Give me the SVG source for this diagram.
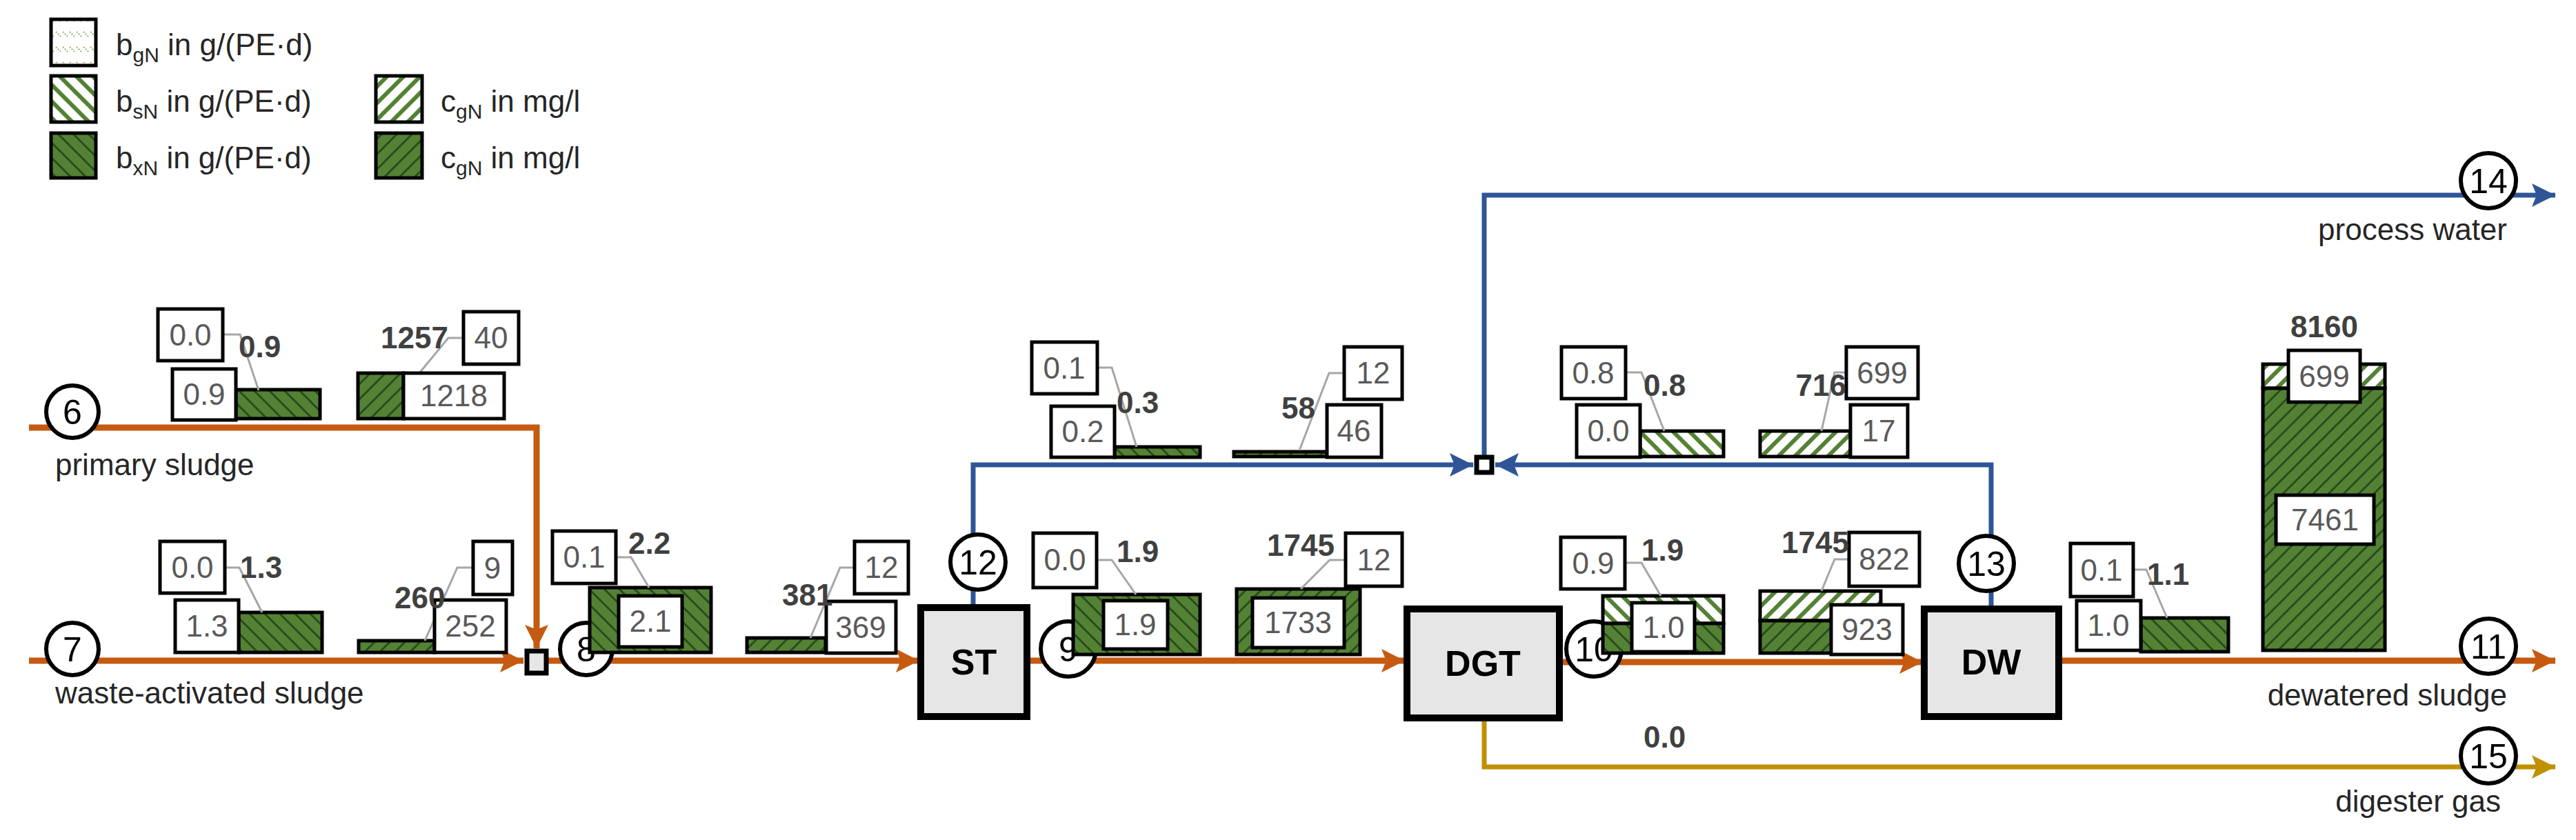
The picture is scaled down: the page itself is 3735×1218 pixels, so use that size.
<svg xmlns="http://www.w3.org/2000/svg" width="3735" height="1218" viewBox="0 0 3735 1218">
<style>
text{font-family:"Liberation Sans",Arial,sans-serif}
.v{font-size:44px;fill:#595959;text-anchor:middle}
.b{font-size:44px;fill:#404040;font-weight:bold}
.lb{font-size:44px;fill:#262626}
.bx{fill:#fff;stroke:#000;stroke-width:5}
.ld{fill:none;stroke:#a6a6a6;stroke-width:3}
.bar{stroke:#000;stroke-width:5}
.circ{fill:#fff;stroke:#000;stroke-width:6}
.cn{font-size:50px;fill:#000;text-anchor:middle}
.unit{fill:#e7e6e6;stroke:#000;stroke-width:10}
.ut{font-size:52px;font-weight:bold;text-anchor:middle;fill:#000}
.o{fill:none;stroke:#C55A11;stroke-width:9}
.bl{fill:none;stroke:#2F5597;stroke-width:7}
.g{fill:none;stroke:#BF9000;stroke-width:7}
</style>
<defs>
<pattern id="dB" width="22" height="22" patternUnits="userSpaceOnUse"><rect width="22" height="22" fill="#548235"/><path d="M-5,-5 L27,27 M-5,17 L5,27 M17,-5 L27,5" stroke="#2a4a1c" stroke-width="3"/></pattern>
<pattern id="dF" width="22" height="22" patternUnits="userSpaceOnUse"><rect width="22" height="22" fill="#548235"/><path d="M-5,27 L27,-5 M-5,5 L5,-5 M17,27 L27,17" stroke="#2a4a1c" stroke-width="3"/></pattern>
<pattern id="wB" width="24" height="24" patternUnits="userSpaceOnUse"><rect width="24" height="24" fill="#fff"/><path d="M-6,-6 L30,30 M-6,18 L6,30 M18,-6 L30,6" stroke="#548235" stroke-width="6"/></pattern>
<pattern id="wF" width="24" height="24" patternUnits="userSpaceOnUse"><rect width="24" height="24" fill="#fff"/><path d="M-6,30 L30,-6 M-6,6 L6,-6 M18,30 L30,18" stroke="#548235" stroke-width="6"/></pattern>
<pattern id="gD" width="10" height="22" patternUnits="userSpaceOnUse"><rect width="10" height="22" fill="#fff"/><path d="M1,2 L8,9" stroke="#8fb46e" stroke-width="2" stroke-dasharray="2 2"/></pattern>
<marker id="aO" viewBox="0 0 10 10" refX="10" refY="5" markerUnits="userSpaceOnUse" markerWidth="34" markerHeight="40" orient="auto"><path d="M0,0 L10,5 L0,10 L2,5 Z" fill="#C55A11"/></marker>
<marker id="aB" viewBox="0 0 10 10" refX="10" refY="5" markerUnits="userSpaceOnUse" markerWidth="34" markerHeight="40" orient="auto"><path d="M0,0 L10,5 L0,10 L2,5 Z" fill="#2F5597"/></marker>
<marker id="aG" viewBox="0 0 10 10" refX="10" refY="5" markerUnits="userSpaceOnUse" markerWidth="34" markerHeight="40" orient="auto"><path d="M0,0 L10,5 L0,10 L2,5 Z" fill="#BF9000"/></marker>
</defs>
<rect width="3735" height="1218" fill="#fff"/>

<g id="legend">
<rect x="74" y="28" width="65" height="67" fill="url(#gD)" stroke="#000" stroke-width="5"/>
<text class="lb" x="168" y="80">b<tspan font-size="30" dy="10">gN</tspan><tspan dy="-10"> in g/(PE·d)</tspan></text>
<rect x="74" y="110" width="65" height="67" fill="url(#wB)" stroke="#000" stroke-width="5"/>
<text class="lb" x="168" y="162">b<tspan font-size="30" dy="10">sN</tspan><tspan dy="-10"> in g/(PE·d)</tspan></text>
<rect x="74" y="193" width="65" height="65" fill="url(#dB)" stroke="#000" stroke-width="5"/>
<text class="lb" x="168" y="244">b<tspan font-size="30" dy="10">xN</tspan><tspan dy="-10"> in g/(PE·d)</tspan></text>
<rect x="545" y="110" width="67" height="67" fill="url(#wF)" stroke="#000" stroke-width="5"/>
<text class="lb" x="639" y="162">c<tspan font-size="30" dy="10">gN</tspan><tspan dy="-10"> in mg/l</tspan></text>
<rect x="545" y="193" width="67" height="65" fill="url(#dF)" stroke="#000" stroke-width="5"/>
<text class="lb" x="639" y="244">c<tspan font-size="30" dy="10">gN</tspan><tspan dy="-10"> in mg/l</tspan></text>
</g>

<g id="connectors">
<path class="o" d="M42,620 H778 V940" marker-end="url(#aO)"/>
<path class="o" d="M42,958 H759" marker-end="url(#aO)"/>
<path class="o" d="M795,958 H1333" marker-end="url(#aO)"/>
<path class="o" d="M1489,958 H2037" marker-end="url(#aO)"/>
<path class="o" d="M2261,960 H2788" marker-end="url(#aO)"/>
<path class="o" d="M2985,958 H3705" marker-end="url(#aO)"/>
<path class="bl" d="M1411,881 V674 H2136" marker-end="url(#aB)"/>
<path class="bl" d="M2887,883 V674 H2168" marker-end="url(#aB)"/>
<path class="bl" d="M2152,661 V283 H3705" marker-end="url(#aB)"/>
<path class="g" d="M2152,1041 V1112 H3705" marker-end="url(#aG)"/>
<rect x="764" y="944" width="28" height="32" fill="#e7e6e6" stroke="#000" stroke-width="7"/>
<rect x="2141" y="663" width="22" height="22" fill="#fff" stroke="#000" stroke-width="7"/>
<text class="b" x="2383" y="1084">0.0</text>
</g>

<g id="labels">
<text class="lb" x="80" y="689">primary sludge</text>
<text class="lb" x="80" y="1020">waste-activated sludge</text>
<text class="lb" x="3635" y="348" text-anchor="end">process water</text>
<text class="lb" x="3635" y="1023" text-anchor="end">dewatered sludge</text>
<text class="lb" x="3626" y="1177" text-anchor="end">digester gas</text>
</g>

<g id="units">
<g id="ST"><rect class="unit" x="1335" y="881" width="154" height="158"/><text class="ut" x="1412" y="978">ST</text></g>
<g id="DGT"><rect class="unit" x="2040" y="883" width="221" height="158"/><text class="ut" x="2150" y="980">DGT</text></g>
<g id="DW"><rect class="unit" x="2790" y="883" width="195" height="156"/><text class="ut" x="2887" y="978">DW</text></g>
</g>

<g id="streams">
<g id="s6"><circle class="circ" cx="105" cy="597" r="38"/><text class="cn" x="105" y="615">6</text></g>
<g id="s7"><circle class="circ" cx="105" cy="941" r="38"/><text class="cn" x="105" y="959">7</text></g>
<g id="s8"><circle class="circ" cx="850" cy="941" r="38"/><text class="cn" x="850" y="959">8</text></g>
<g id="s9"><circle class="circ" cx="1549" cy="941" r="40"/><text class="cn" x="1549" y="959">9</text></g>
<g id="s10"><circle class="circ" cx="2311" cy="941" r="40"/><text class="cn" x="2311" y="959">10</text></g>
<g id="s11"><circle class="circ" cx="3608" cy="937" r="40"/><text class="cn" x="3608" y="955">11</text></g>
<g id="s12"><circle class="circ" cx="1418" cy="815" r="40"/><text class="cn" x="1418" y="833">12</text></g>
<g id="s13"><circle class="circ" cx="2880" cy="817" r="40"/><text class="cn" x="2880" y="835">13</text></g>
<g id="s14"><circle class="circ" cx="3608" cy="262" r="40"/><text class="cn" x="3608" y="280">14</text></g>
<g id="s15"><circle class="circ" cx="3608" cy="1096" r="40"/><text class="cn" x="3608" y="1114">15</text></g>
</g>

<g id="charts">
<g id="c6a">
<rect class="bar" x="342" y="565" width="122" height="42" fill="url(#dB)"/>
<path class="ld" d="M323,485 H348 L375,566"/>
<rect class="bx" x="229" y="448" width="94" height="75"/><text class="v" x="276" y="501">0.0</text>
<rect class="bx" x="250" y="535" width="92" height="74"/><text class="v" x="296" y="587">0.9</text>
<text class="b" x="346" y="518">0.9</text>
</g>
<g id="c6b">
<rect class="bar" x="519" y="541" width="66" height="66" fill="url(#dF)"/>
<path class="ld" d="M672,490 H650 L608,541"/>
<rect class="bx" x="585" y="541" width="146" height="66"/><text class="v" x="658" y="589">1218</text>
<rect class="bx" x="672" y="452" width="80" height="76"/><text class="v" x="712" y="505">40</text>
<text class="b" x="650" y="505" text-anchor="end">1257</text>
</g>
<g id="c7a">
<rect class="bar" x="346" y="888" width="121" height="58" fill="url(#dB)"/>
<path class="ld" d="M326,823 H347 L380,888"/>
<rect class="bx" x="232" y="785" width="94" height="75"/><text class="v" x="279" y="838">0.0</text>
<rect class="bx" x="254" y="870" width="92" height="76"/><text class="v" x="300" y="923">1.3</text>
<text class="b" x="348" y="838">1.3</text>
</g>
<g id="c7b">
<rect class="bar" x="520" y="929" width="110" height="17" fill="url(#dF)"/>
<path class="ld" d="M686,823 H663 L616,929"/>
<rect class="bx" x="630" y="870" width="104" height="76"/><text class="v" x="682" y="923">252</text>
<rect class="bx" x="686" y="785" width="57" height="77"/><text class="v" x="714" y="839">9</text>
<text class="b" x="572" y="882">260</text>
</g>
<g id="c8a">
<rect class="bar" x="855" y="852" width="176" height="94" fill="url(#dB)"/>
<path class="ld" d="M893,808 H915 L941,852"/>
<rect class="bx" x="801" y="770" width="92" height="76"/><text class="v" x="847" y="823">0.1</text>
<rect class="bx" x="897" y="864" width="92" height="74"/><text class="v" x="943" y="916">2.1</text>
<text class="b" x="911" y="803">2.2</text>
</g>
<g id="c8b">
<rect class="bar" x="1083" y="925" width="114" height="21" fill="url(#dF)"/>
<path class="ld" d="M1239,823 H1218 L1175,925"/>
<rect class="bx" x="1198" y="872" width="101" height="75"/><text class="v" x="1248" y="925">369</text>
<rect class="bx" x="1239" y="785" width="78" height="76"/><text class="v" x="1278" y="838">12</text>
<text class="b" x="1134" y="878">381</text>
</g>
<g id="c12a">
<rect class="bar" x="1616" y="648" width="124" height="15" fill="url(#dB)"/>
<path class="ld" d="M1591,533 H1612 L1648,648"/>
<rect class="bx" x="1496" y="496" width="95" height="75"/><text class="v" x="1543" y="549">0.1</text>
<rect class="bx" x="1524" y="589" width="92" height="74"/><text class="v" x="1570" y="641">0.2</text>
<text class="b" x="1619" y="599">0.3</text>
</g>
<g id="c12b">
<rect class="bar" x="1789" y="655" width="135" height="7" fill="url(#dF)"/>
<path class="ld" d="M1949,541 H1927 L1884,653"/>
<rect class="bx" x="1924" y="587" width="79" height="76"/><text class="v" x="1963" y="640">46</text>
<rect class="bx" x="1949" y="503" width="84" height="76"/><text class="v" x="1991" y="556">12</text>
<text class="b" x="1858" y="607">58</text>
</g>
<g id="c9a">
<rect class="bar" x="1556" y="862" width="184" height="87" fill="url(#dB)"/>
<path class="ld" d="M1590,812 H1612 L1647,862"/>
<rect class="bx" x="1498" y="773" width="92" height="79"/><text class="v" x="1544" y="827">0.0</text>
<rect class="bx" x="1600" y="871" width="93" height="70"/><text class="v" x="1646" y="921">1.9</text>
<text class="b" x="1619" y="815">1.9</text>
</g>
<g id="c9b">
<rect class="bar" x="1793" y="854" width="179" height="95" fill="url(#dF)"/>
<path class="ld" d="M1951,812 H1928 L1886,854"/>
<rect class="bx" x="1816" y="867" width="133" height="72"/><text class="v" x="1882" y="918">1733</text>
<rect class="bx" x="1951" y="773" width="82" height="77"/><text class="v" x="1992" y="827">12</text>
<text class="b" x="1837" y="806">1745</text>
</g>
<g id="c13a">
<rect class="bar" x="2378" y="625" width="121" height="37" fill="url(#wB)"/>
<path class="ld" d="M2357,540 H2380 L2413,625"/>
<rect class="bx" x="2264" y="503" width="93" height="75"/><text class="v" x="2310" y="556">0.8</text>
<rect class="bx" x="2286" y="587" width="92" height="76"/><text class="v" x="2332" y="640">0.0</text>
<text class="b" x="2383" y="574">0.8</text>
</g>
<g id="c13b">
<rect class="bar" x="2552" y="625" width="131" height="37" fill="url(#wF)"/>
<path class="ld" d="M2677,540 H2660 L2641,625"/>
<rect class="bx" x="2683" y="587" width="83" height="76"/><text class="v" x="2724" y="640">17</text>
<rect class="bx" x="2677" y="503" width="104" height="75"/><text class="v" x="2729" y="556">699</text>
<text class="b" x="2677" y="574" text-anchor="end">716</text>
</g>
<g id="c10a">
<rect class="bar" x="2324" y="864" width="175" height="40" fill="url(#wB)"/>
<rect class="bar" x="2324" y="904" width="175" height="43" fill="url(#dB)"/>
<path class="ld" d="M2356,816 H2380 L2408,864"/>
<rect class="bx" x="2263" y="779" width="93" height="75"/><text class="v" x="2310" y="832">0.9</text>
<rect class="bx" x="2366" y="874" width="91" height="71"/><text class="v" x="2412" y="925">1.0</text>
<text class="b" x="2380" y="813">1.9</text>
</g>
<g id="c10b">
<rect class="bar" x="2552" y="857" width="175" height="43" fill="url(#wF)"/>
<rect class="bar" x="2552" y="900" width="175" height="47" fill="url(#dF)"/>
<path class="ld" d="M2681,811 H2660 L2641,857"/>
<rect class="bx" x="2655" y="877" width="104" height="72"/><text class="v" x="2707" y="928">923</text>
<rect class="bx" x="2681" y="772" width="102" height="78"/><text class="v" x="2732" y="826">822</text>
<text class="b" x="2681" y="802" text-anchor="end">1745</text>
</g>
<g id="c11a">
<rect class="bar" x="3104" y="896" width="127" height="49" fill="url(#dB)"/>
<path class="ld" d="M3093,826 H3112 L3142,896"/>
<rect class="bx" x="3002" y="788" width="91" height="77"/><text class="v" x="3047" y="842">0.1</text>
<rect class="bx" x="3011" y="871" width="93" height="72"/><text class="v" x="3057" y="922">1.0</text>
<text class="b" x="3113" y="848">1.1</text>
</g>
<g id="c11b">
<rect class="bar" x="3281" y="528" width="177" height="35" fill="url(#wF)"/>
<rect class="bar" x="3281" y="563" width="177" height="380" fill="url(#dF)"/>
<rect class="bx" x="3318" y="508" width="104" height="75"/><text class="v" x="3370" y="561">699</text>
<rect class="bx" x="3300" y="718" width="142" height="71"/><text class="v" x="3371" y="769">7461</text>
<text class="b" x="3370" y="489" text-anchor="middle">8160</text>
</g>
</g>
</svg>
